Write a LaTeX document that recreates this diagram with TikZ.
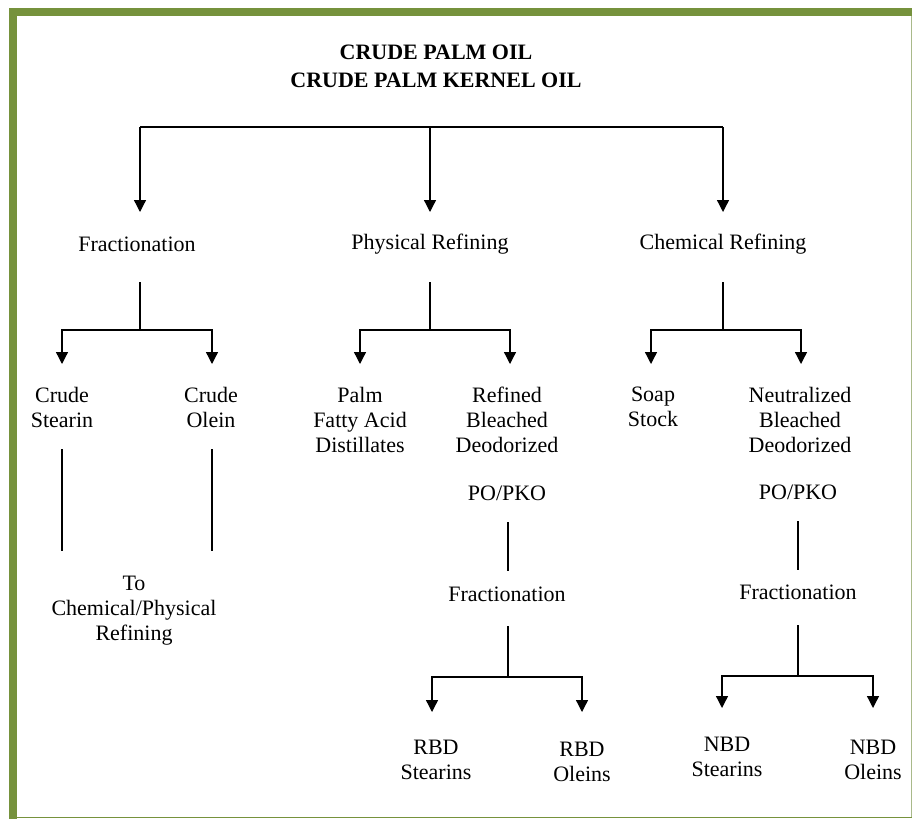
\documentclass[tikz,border=0pt]{standalone}
\usepackage{fontspec}
\setmainfont{Liberation Serif}
\usetikzlibrary{arrows.meta}
\definecolor{olive}{HTML}{76923C}
\definecolor{paleolive}{HTML}{A9B98A}
\begin{document}
\begin{tikzpicture}[x=1pt,y=-1pt]
      \tikzset{lbl/.style={align=center, inner sep=0pt, font=\fontsize{22}{25}\selectfont},
               ttl/.style={align=center, inner sep=0pt, font=\fontsize{22}{28}\selectfont\bfseries},
               link/.style={line width=1.3pt},
               arr/.style={line width=1.3pt, -{Triangle[width=12pt,length=12pt]}}}
      \useasboundingbox (0,0) rectangle (912,819);
%% Border
      	\fill[olive] (9,7.5) rectangle (912,16);
      	\fill[olive] (9,7.5) rectangle (17,819);
      	\draw[paleolive, line width=1pt] (911.5,16) -- (911.5,818);
      	\draw[olive, line width=1.5pt] (17,817.5) -- (912,817.5);
%% Nodes
      	\node[ttl] (crude) at (436,66) {CRUDE PALM OIL\\CRUDE PALM KERNEL OIL};
      	\node[lbl] (frac) at (137,244) {Fractionation};
      	\node[lbl] (phys) at (430,244) {Physical Refining};
      	\node[lbl] (chem) at (723,244) {Chemical Refining};
      	\node[lbl] (cstearin) at (62,407) {Crude\\Stearin};
      	\node[lbl] (colein) at (211,407) {Crude\\Olein};
      	\node[lbl] (pfad) at (360,420) {Palm\\Fatty Acid\\Distillates};
      	\node[lbl] (rbd) at (507,420) {Refined\\Bleached\\Deodorized};
      	\node[lbl] (soap) at (653,407) {Soap\\Stock};
      	\node[lbl] (nbd) at (800,420) {Neutralized\\Bleached\\Deodorized};
      	\node[lbl] (rbdpo) at (507,493) {PO/PKO};
      	\node[lbl] (nbdpo) at (798,492) {PO/PKO};
      	\node[lbl] (toref) at (134,611) {To\\Chemical/Physical\\Refining};
      	\node[lbl] (rbdfrac) at (507,594) {Fractionation};
      	\node[lbl] (nbdfrac) at (798,592) {Fractionation};
      	\node[lbl] (rbds) at (436,760) {RBD\\Stearins};
      	\node[lbl] (rbdo) at (582,762) {RBD\\Oleins};
      	\node[lbl] (nbds) at (727,757) {NBD\\Stearins};
      	\node[lbl] (nbdo) at (873,760) {NBD\\Oleins};
%% Junctions
      	\coordinate (bar) at (430,127);
      	\coordinate (fracin) at (140,212);
      	\coordinate (physin) at (430,212);
      	\coordinate (chemin) at (723,212);
      	\coordinate (fracout) at (140,282);
      	\coordinate (fracbar) at (140,330);
      	\coordinate (physout) at (430,282);
      	\coordinate (physbar) at (430,330);
      	\coordinate (chemout) at (723,282);
      	\coordinate (chembar) at (723,330);
      	\coordinate (cstearinin) at (62,364);
      	\coordinate (coleinin) at (212,364);
      	\coordinate (pfadin) at (360,364);
      	\coordinate (rbdin) at (510,364);
      	\coordinate (soapin) at (651,364);
      	\coordinate (nbdin) at (801,364);
      	\coordinate (cstearinout) at (62,449);
      	\coordinate (cstearinend) at (62,551);
      	\coordinate (coleinout) at (212,449);
      	\coordinate (coleinend) at (212,551);
      	\coordinate (rbdpoout) at (508,522);
      	\coordinate (rbdfracin) at (508,571);
      	\coordinate (rbdfracout) at (508,626);
      	\coordinate (rbdbar) at (508,677);
      	\coordinate (rbdsin) at (432,712);
      	\coordinate (rbdoin) at (582,712);
      	\coordinate (nbdpoout) at (798,521);
      	\coordinate (nbdfracin) at (798,570);
      	\coordinate (nbdfracout) at (798,625);
      	\coordinate (nbdbar) at (798,676);
      	\coordinate (nbdsin) at (722,708);
      	\coordinate (nbdoin) at (873,708);
%% Connectors
		\draw[link] (fracin |- bar) -- (chemin |- bar);
		\draw[arr] (fracin |- bar) -- (fracin);
		\draw[arr] (bar) -- (physin);
		\draw[arr] (chemin |- bar) -- (chemin);
		\draw[link] (fracout) -- (fracbar);
		\draw[arr] (fracbar) -| (cstearinin);
		\draw[arr] (fracbar) -| (coleinin);
		\draw[link] (physout) -- (physbar);
		\draw[arr] (physbar) -| (pfadin);
		\draw[arr] (physbar) -| (rbdin);
		\draw[link] (chemout) -- (chembar);
		\draw[arr] (chembar) -| (soapin);
		\draw[arr] (chembar) -| (nbdin);
		\draw[link] (cstearinout) -- (cstearinend);
		\draw[link] (coleinout) -- (coleinend);
		\draw[link] (rbdpoout) -- (rbdfracin);
		\draw[link] (rbdfracout) -- (rbdbar);
		\draw[arr] (rbdbar) -| (rbdsin);
		\draw[arr] (rbdbar) -| (rbdoin);
		\draw[link] (nbdpoout) -- (nbdfracin);
		\draw[link] (nbdfracout) -- (nbdbar);
		\draw[arr] (nbdbar) -| (nbdsin);
		\draw[arr] (nbdbar) -| (nbdoin);
	\end{tikzpicture}
\end{document}
